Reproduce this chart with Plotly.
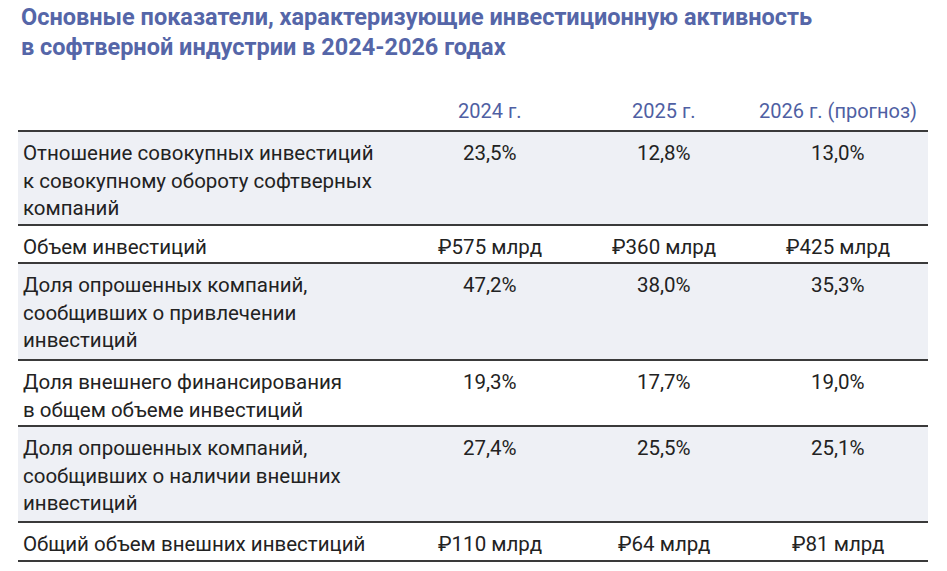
import plotly.graph_objects as go

title_lines = ["Основные показатели, характеризующие инвестиционную активность",
               "в софтверной индустрии в 2024-2026 годах"]
years = ["2024 г.", "2025 г.", "2026 г. (прогноз)"]
labels = [
    ["Отношение совокупных инвестиций", "к совокупному обороту софтверных", "компаний"],
    ["Объем инвестиций"],
    ["Доля опрошенных компаний,", "сообщивших о привлечении", "инвестиций"],
    ["Доля внешнего финансирования", "в общем объеме инвестиций"],
    ["Доля опрошенных компаний,", "сообщивших о наличии внешних", "инвестиций"],
    ["Общий объем внешних инвестиций"],
]
v2024 = ["23,5%", "₽575 млрд", "47,2%", "19,3%", "27,4%", "₽110 млрд"]
v2025 = ["12,8%", "₽360 млрд", "38,0%", "17,7%", "25,5%", "₽64 млрд"]
v2026 = ["13,0%", "₽425 млрд", "35,3%", "19,0%", "25,1%", "₽81 млрд"]

FONT = "Roboto, sans-serif"
W, H = 947, 571
OFF = 8  # page body margin
row_bounds = [131, 225, 263, 360, 426, 522, 561]
col_x = [490, 664, 838]
line_h = 27.5
fill = "#eef0f5"

fig = go.Figure()
shapes, ann = [], []
X = lambda v: v - OFF
Y = lambda v: v - OFF
for i in range(len(labels)):
    y0, y1 = row_bounds[i], row_bounds[i + 1]
    if i % 2 == 0:
        shapes.append(dict(type="rect", x0=X(18), x1=X(928), y0=Y(y0), y1=Y(y1), fillcolor=fill,
                           line_width=0, layer="below", xref="x", yref="y"))
    for j, t in enumerate(labels[i]):
        ann.append(dict(x=X(21), y=Y(y0 + 22 + j * line_h), text=t, xanchor="left", yanchor="middle",
                        showarrow=False, font=dict(size=20.5, color="#222", family=FONT)))
    for cx, vals in zip(col_x, [v2024, v2025, v2026]):
        ann.append(dict(x=X(cx), y=Y(y0 + 22), text=vals[i], xanchor="center", yanchor="middle",
                        showarrow=False, font=dict(size=20.5, color="#222", family=FONT)))
for yb in row_bounds:
    shapes.append(dict(type="line", x0=X(18), x1=X(928), y0=Y(yb), y1=Y(yb),
                       line=dict(color="#3a3a3a", width=2), xref="x", yref="y"))
for cx, t in zip(col_x, years):
    ann.append(dict(x=X(cx), y=Y(111), text=t, xanchor="center", yanchor="middle", showarrow=False,
                    font=dict(size=20, color="#4f5fa3", family=FONT)))
for k, t in enumerate(title_lines):
    ann.append(dict(x=X(19), y=Y(17 + k * 30), text="<b>" + t + "</b>", xanchor="left", yanchor="middle",
                    showarrow=False, font=dict(size=23.5, color="#5566a8", family=FONT)))

fig.update_layout(width=W, height=H, margin=dict(l=0, r=0, t=0, b=0),
                  plot_bgcolor="white", paper_bgcolor="white", shapes=shapes, annotations=ann,
                  xaxis=dict(range=[0, W], visible=False, fixedrange=True),
                  yaxis=dict(range=[H, 0], visible=False, fixedrange=True),
                  showlegend=False)
fig.write_html("out.html")
